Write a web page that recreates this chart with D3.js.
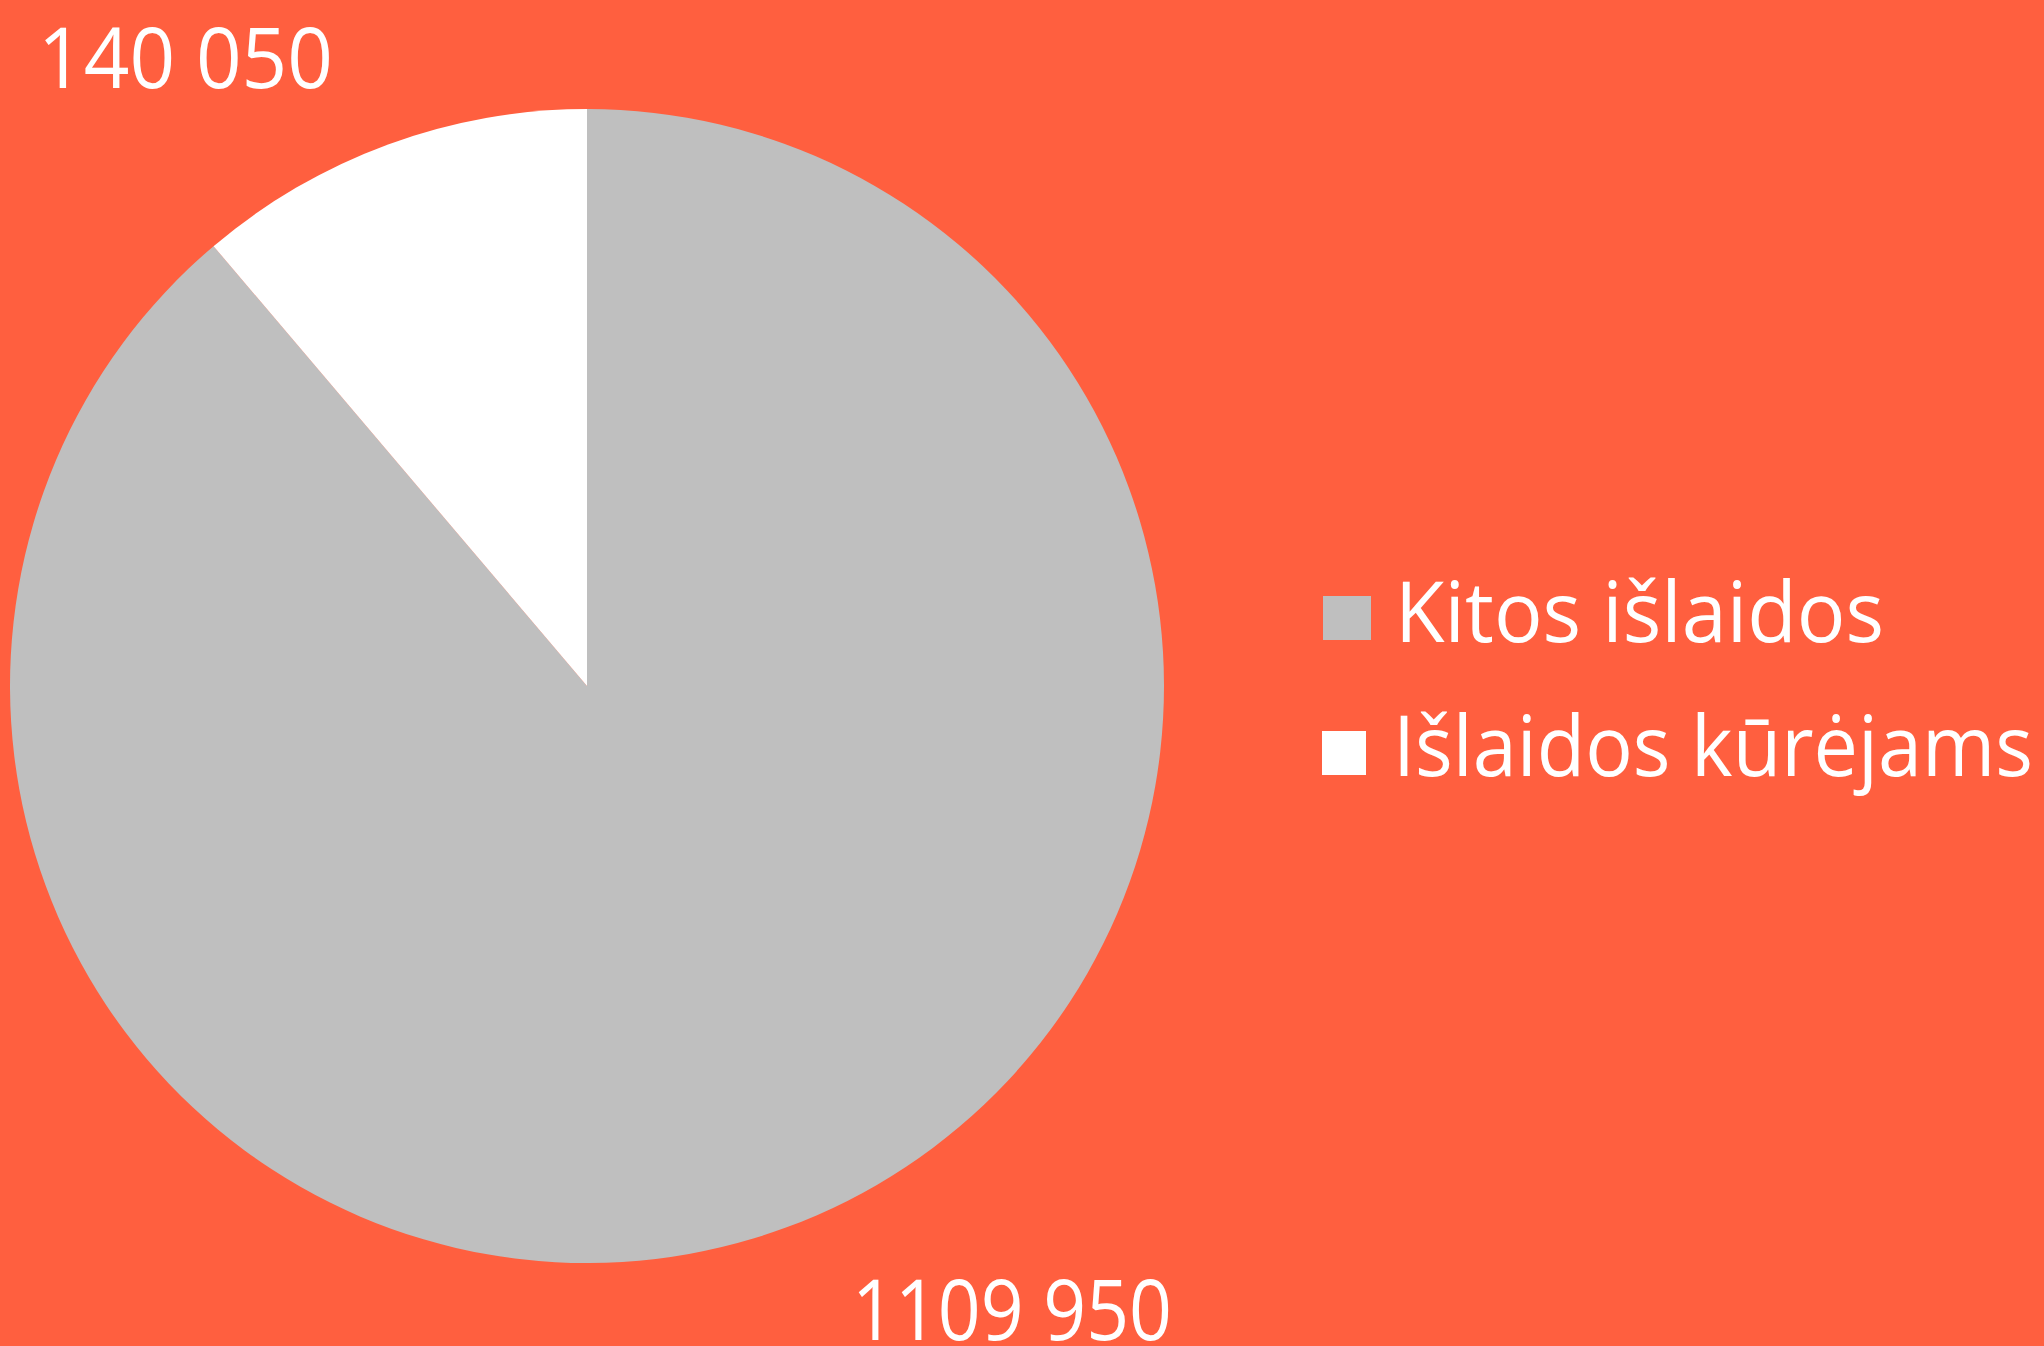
<!DOCTYPE html>
<html>
<head>
<meta charset="utf-8">
<script src="https://cdn.jsdelivr.net/npm/d3@7"></script>
<style>
  html, body { margin: 0; padding: 0; background: #FF5F3F; }
  svg { display: block; }
</style>
</head>
<body>
<script>
// Chart data
const categories = ['Kitos išlaidos', 'Išlaidos kūrėjams'];
const values = [1109950, 140050];
const valueLabels = ['1109 950', '140 050'];
const colors = ['#BFBFBF', '#FFFFFF'];

const width = 2044;
const height = 1346;
const FONT = '"Open Sans", "Noto Sans", sans-serif';

const svg = d3.select('body')
    .append('svg')
    .attr('width', width)
    .attr('height', height);

svg.append('rect')
    .attr('width', width)
    .attr('height', height)
    .attr('fill', '#FF5F3F');

// Pie
const cx = 587, cy = 686, radius = 577;

const pie = d3.pie().sort(null).value(d => d);
const arc = d3.arc().innerRadius(0).outerRadius(radius);

const pieG = svg.append('g')
    .attr('transform', `translate(${cx},${cy})`);

pieG.selectAll('path')
    .data(pie(values))
    .join('path')
    .attr('d', arc)
    .attr('fill', (d, i) => colors[i]);

// Value labels (positions taken from the reference layout)
const labelPos = [
    { x: 852, y: 1340, w: 320 },
    { x: 38, y: 88, w: 295 }
];

svg.selectAll('.value-label')
    .data(valueLabels)
    .join('text')
    .attr('class', 'value-label')
    .attr('x', (d, i) => labelPos[i].x)
    .attr('y', (d, i) => labelPos[i].y)
    .attr('textLength', (d, i) => labelPos[i].w)
    .attr('lengthAdjust', 'spacingAndGlyphs')
    .style('font-family', FONT)
    .style('font-weight', 400)
    .style('font-size', '84px')
    .style('fill', '#FFFFFF')
    .text(d => d);

// Legend
const legendRows = [
    { sx: 1323, sy: 596, sw: 48, sh: 44, tx: 1395, ty: 642, tw: 489 },
    { sx: 1322, sy: 731, sw: 44, sh: 44, tx: 1393, ty: 776, tw: 640 }
];

const legend = svg.append('g').attr('class', 'legend');

legend.selectAll('rect')
    .data(categories)
    .join('rect')
    .attr('x', (d, i) => legendRows[i].sx)
    .attr('y', (d, i) => legendRows[i].sy)
    .attr('width', (d, i) => legendRows[i].sw)
    .attr('height', (d, i) => legendRows[i].sh)
    .attr('fill', (d, i) => colors[i]);

legend.selectAll('text')
    .data(categories)
    .join('text')
    .attr('x', (d, i) => legendRows[i].tx)
    .attr('y', (d, i) => legendRows[i].ty)
    .attr('textLength', (d, i) => legendRows[i].tw)
    .attr('lengthAdjust', 'spacingAndGlyphs')
    .style('font-family', FONT)
    .style('font-weight', 400)
    .style('font-size', '84px')
    .style('fill', '#FFFFFF')
    .text(d => d);
</script>
</body>
</html>
